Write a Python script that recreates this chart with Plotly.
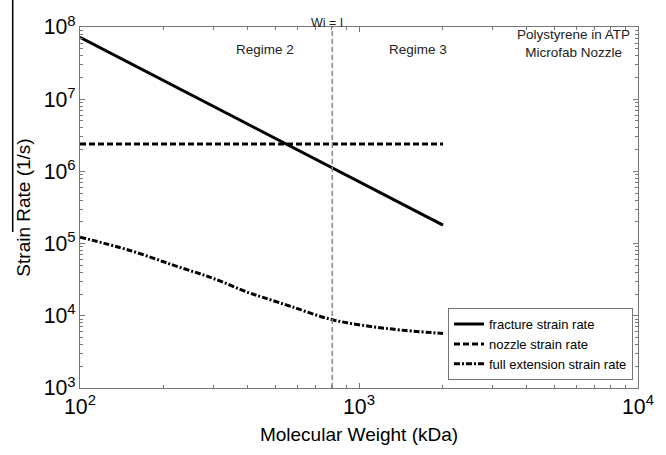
import plotly.graph_objects as go

# Data
frac_mw = [100, 802, 2000]
frac_rate = [7.2e7, 1.11e6, 1.8e5]

nozzle_mw = [100, 2000]
nozzle_rate = [2.4e6, 2.4e6]

ext_mw = [100, 150, 217, 300, 401, 453, 569, 815, 1288, 2000]
ext_rate = [1.23e5, 8.1e4, 5.0e4, 3.3e4, 2.1e4, 1.8e4, 1.35e4, 8.7e3, 6.6e3, 5.7e3]

wi_mw = 802

FONT = "Liberation Sans, Arial, Helvetica, sans-serif"

fig = go.Figure()
fig.add_trace(go.Scatter(x=frac_mw, y=frac_rate, mode="lines", name="fracture strain rate",
                         line=dict(color="black", width=3)))
fig.add_trace(go.Scatter(x=nozzle_mw, y=nozzle_rate, mode="lines", name="nozzle strain rate",
                         line=dict(color="black", width=3, dash="6px,3px")))
fig.add_trace(go.Scatter(x=ext_mw, y=ext_rate, mode="lines", name="full extension strain rate",
                         line=dict(color="black", width=3, dash="6px,2px,2px,2px", shape="spline")))

fig.add_shape(type="line", xref="x", yref="paper", x0=wi_mw, x1=wi_mw, y0=0, y1=1,
              line=dict(color="#888888", width=1.5, dash="5px,3px"))
# stray line at the left edge of the reference image
fig.add_shape(type="line", xref="paper", yref="paper", x0=-0.1206, x1=-0.1206, y0=0.432, y1=1.075,
              line=dict(color="black", width=1.5))

ann_font = dict(family=FONT, size=13.5, color="#222")
fig.add_annotation(x=0.443, y=1.0, xref="paper", yref="paper", text="Wi = I", showarrow=False,
                   font=dict(family=FONT, size=12.5, color="#222"), xanchor="center",
                   yanchor="bottom", yshift=-5)
fig.add_annotation(x=0.332, y=0.963, xref="paper", yref="paper", text="Regime 2", showarrow=False,
                   font=ann_font, xanchor="center")
fig.add_annotation(x=0.605, y=0.963, xref="paper", yref="paper", text="Regime 3", showarrow=False,
                   font=ann_font, xanchor="center")
fig.add_annotation(x=0.885, y=1.005, xref="paper", yref="paper",
                   text="Polystyrene in ATP<br>Microfab Nozzle", showarrow=False,
                   font=ann_font, xanchor="center", yanchor="top", align="center")

axis_common = dict(
    type="log",
    showline=True, linecolor="#777", linewidth=1, mirror="ticks",
    ticks="inside", ticklen=5, tickcolor="#777",
    minor=dict(ticks="inside", ticklen=3, tickcolor="#777", showgrid=False),
    showgrid=False, zeroline=False,
    exponentformat="power", dtick=1,
    tickfont=dict(family=FONT, size=17, color="black"),
)

fig.update_xaxes(range=[2, 4], title=dict(text="Molecular Weight (kDa)", font=dict(family=FONT, size=19, color="black"),
                                           standoff=10), **axis_common)
fig.update_yaxes(range=[3, 8], title=dict(text="Strain Rate (1/s)", font=dict(family=FONT, size=19, color="black"),
                                           standoff=8), **axis_common)

fig.update_layout(
    width=666, height=455,
    margin=dict(l=80, r=22, t=27, b=67),
    paper_bgcolor="white", plot_bgcolor="white",
    showlegend=True,
    legend=dict(x=0.991, y=0.022, xanchor="right", yanchor="bottom",
                bordercolor="#777", borderwidth=1, bgcolor="white",
                font=dict(family=FONT, size=13, color="black"),
                itemwidth=30, tracegroupgap=0),
    font=dict(family=FONT),
)

fig.write_html("out.html")
